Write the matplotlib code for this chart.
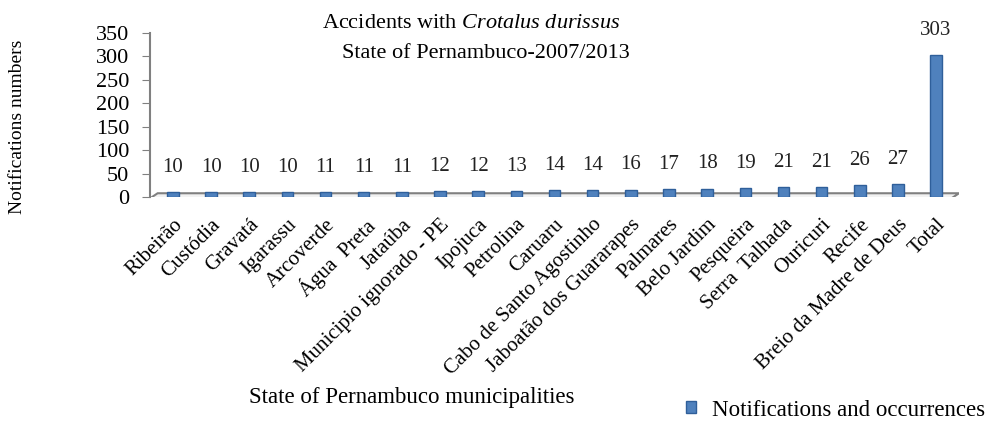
import matplotlib
matplotlib.use("Agg")
import matplotlib.pyplot as plt
from matplotlib.patches import Polygon
import numpy as np

categories = ["Ribeirão", "Custódia", "Gravatá", "Igarassu", "Arcoverde", "Água  Preta",
              "Jataúba", "Municipio ignorado - PE", "Ipojuca", "Petrolina", "Caruaru",
              "Cabo de Santo Agostinho", "Jaboatão dos Guararapes", "Palmares", "Belo Jardim",
              "Pesqueira", "Serra  Talhada", "Ouricuri", "Recife", "Breio da Madre de Deus", "Total"]
values = [10, 10, 10, 10, 11, 11, 11, 12, 12, 13, 14, 14, 16, 17, 18, 19, 21, 21, 26, 27, 303]
yticks = [0, 50, 100, 150, 200, 250, 300, 350]

plt.rcParams['font.family'] = ['Liberation Serif', 'DejaVu Serif']
plt.rcParams['mathtext.fontset'] = 'custom'
plt.rcParams['mathtext.rm'] = 'Liberation Serif'
plt.rcParams['mathtext.it'] = 'Liberation Serif:italic'

fig = plt.figure(figsize=(9.98, 4.21), dpi=100)
ax = fig.add_axes([150/998, (421-197)/421, (959-150)/998, (197-33)/421])

x = np.arange(len(categories))
# 3D-like floor
floor = Polygon([(-0.6, -3), (len(x) - 0.6, -3), (len(x) - 0.4, 8), (-0.4, 8)],
                closed=True, facecolor='#f2f2f2', edgecolor='#808080', lw=1.5, zorder=1)
ax.add_patch(floor)

ax.bar(x, values, width=0.3, color='#4F81BD', edgecolor='#2f5f9a', lw=1, zorder=3,
       label='Notifications and occurrences')
for xi, v in zip(x, values):
    ax.annotate(str(v), (xi, v), xytext=(0, 11), textcoords='offset points',
                ha='center', va='bottom', fontsize=15, color='#222222')

ax.set_xlim(-0.6, len(x) - 0.4)
ax.set_ylim(0, 350)
ax.set_yticks(yticks)
ax.tick_params(axis='y', labelsize=16, length=6, direction='out', color='#808080', pad=9)
ax.set_xticks(x)
ax.set_xticklabels(categories, rotation=45, ha='right', va='top', rotation_mode='anchor', fontsize=15)
ax.tick_params(axis='x', length=0, pad=13)
for s in ['top', 'right', 'bottom']:
    ax.spines[s].set_visible(False)
ax.spines['left'].set_color('#808080')
ax.spines['left'].set_linewidth(1.5)
ax.patch.set_alpha(0)

fig.text(471/998, 1 - 24/421, "Accidents with $\\it{Crotalus\\ durissus}$", ha='center', va='center', fontsize=16)
fig.text(486/998, 1 - 53/421, "State of Pernambuco-2007/2013", ha='center', va='center', fontsize=16)
fig.text(18/998, 1 - 127/421, "Notifications numbers", rotation=90, ha='center', va='center', fontsize=14)
fig.text(412/998, 1 - 398/421, "State of Pernambuco municipalities", ha='center', va='center', fontsize=16.5)

leg = fig.legend(loc='center left', bbox_to_anchor=(686/998, 1 - 410/421), frameon=False,
                 fontsize=16.5, handlelength=0.45, handleheight=0.45, handletextpad=0.7,
                 borderaxespad=0, borderpad=0)

fig.savefig("out.png", dpi=100)
